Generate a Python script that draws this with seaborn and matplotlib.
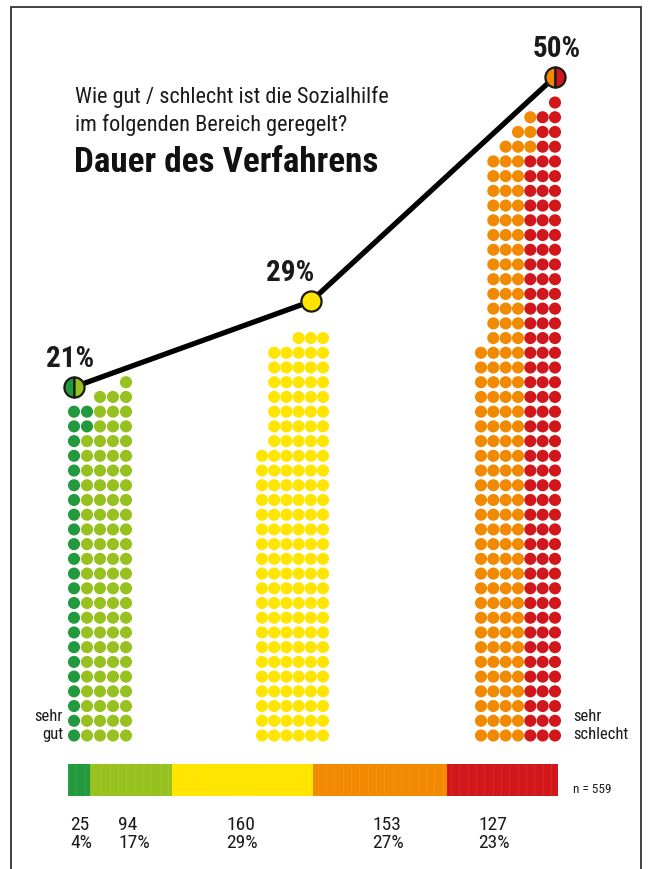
import numpy as np
import pandas as pd
import matplotlib
matplotlib.use("Agg")
import matplotlib.pyplot as plt
import seaborn as sns
from matplotlib import font_manager
from matplotlib.patches import Rectangle

# answers from "sehr gut" to "sehr schlecht"
answers = ["sehr gut", "gut", "mittel", "schlecht", "sehr schlecht"]
counts = [25, 94, 160, 153, 127]
shares = ["4%", "17%", "29%", "27%", "23%"]
colors = ["#23993d", "#97c11f", "#ffe500", "#f18a00", "#d1161c"]

# dot columns (dots per column, left to right) of the three groups
group_cols = [
    [23, 23, 24, 24, 25],
    [20, 27, 27, 28, 28, 28],
    [27, 40, 41, 42, 43, 43, 44],
]
group_answers = [[0, 1], [2], [3, 4]]
group_pct = [21, 29, 50]
pct_labels = ["21%", "29%", "50%"]
n_total = 559

# layout (pixels, figure is 652 x 870)
W, H = 652, 870
group_x0 = [74, 262, 481]
group_dx = [13.0, 12.2, 12.33]
marker_col = [0, 4, 6]
base_y = 736.5
dy = 14.72

sns.set_theme(style="white")
narrow = "DejaVu Sans"
for fam in ["Liberation Sans Narrow", "Roboto Condensed", "DejaVu Sans Condensed"]:
    try:
        font_manager.findfont(fam, fallback_to_default=False)
        narrow = fam
        break
    except Exception:
        pass
plt.rcParams["font.family"] = [narrow, "DejaVu Sans"]

# build dot table: fill columns left to right, each column top to bottom
rows = []
for g, cols in enumerate(group_cols):
    labels = []
    for a in group_answers[g]:
        labels += [answers[a]] * counts[a]
    k = 0
    for c, h in enumerate(cols):
        for r in range(h - 1, -1, -1):
            lab = labels[min(k, len(labels) - 1)]
            rows.append({"x": group_x0[g] + c * group_dx[g],
                         "y": base_y - r * dy,
                         "answer": lab})
            k += 1
dots = pd.DataFrame(rows)

fig = plt.figure(figsize=(W / 100, H / 100), dpi=100)
fig.patch.set_facecolor("white")

ax = fig.add_axes([0, 0, 1, 1])
ax.set_xlim(0, W)
ax.set_ylim(H, 0)
ax.axis("off")

sns.scatterplot(data=dots, x="x", y="y", hue="answer", hue_order=answers,
                palette=dict(zip(answers, colors)), s=76, linewidth=0,
                legend=False, ax=ax, zorder=2)

# line of percentages (own y scale: 21% at px 388, 10.7 px per %)
axp = fig.add_axes([0, 0, 1, 1])
axp.set_xlim(0, W)
axp.set_ylim(21 - (H - 388) / 10.7, 21 + 388 / 10.7)
axp.axis("off")
axp.patch.set_alpha(0)
line_x = [group_x0[g] + marker_col[g] * group_dx[g] for g in range(3)]
line_df = pd.DataFrame({"x": line_x, "pct": group_pct})
sns.lineplot(data=line_df, x="x", y="pct", color="black", linewidth=3.8,
             ax=axp, zorder=3)
marker_fill = [(colors[0], colors[1]), (colors[2], colors[2]), (colors[3], colors[4])]
for g in range(3):
    split = marker_fill[g][0] != marker_fill[g][1]
    axp.plot(line_x[g], group_pct[g], marker="o", markersize=14.5,
             fillstyle="left" if split else "full",
             markerfacecolor=marker_fill[g][0],
             markerfacecoloralt=marker_fill[g][1], markeredgecolor="#1a1a1a",
             markeredgewidth=1.6, zorder=4)
label_dx = [-4, -21, 2]
for g in range(3):
    axp.annotate(pct_labels[g], (line_x[g], group_pct[g]),
                 xytext=(label_dx[g] * 0.72, 21), textcoords="offset points",
                 ha="center", va="center", fontsize=21, fontweight="bold",
                 color="#1a1a1a")

# titles
ax.text(75, 97, "Wie gut / schlecht ist die Sozialhilfe", fontsize=16,
        color="#1a1a1a", va="center", ha="left")
ax.text(75, 125, "im folgenden Bereich geregelt?", fontsize=16,
        color="#1a1a1a", va="center", ha="left")
ax.text(74, 163, "Dauer des Verfahrens", fontsize=25.3, fontweight="bold",
        color="#111111", va="center", ha="left")

ax.text(63, 717, "sehr", fontsize=12, ha="right", va="center", color="#1a1a1a")
ax.text(63, 735, "gut", fontsize=12, ha="right", va="center", color="#1a1a1a")
ax.text(573, 717, "sehr", fontsize=12, ha="left", va="center", color="#1a1a1a")
ax.text(573, 735, "schlecht", fontsize=12, ha="left", va="center", color="#1a1a1a")

# stacked bar of all answers
axb = fig.add_axes([68 / W, 1 - 797 / H, 490 / W, 32 / H])
lefts = np.concatenate([[0], np.cumsum(counts)[:-1]])
axb.barh([0.5] * len(counts), counts, left=lefts, height=1, color=colors,
         linewidth=0)
for xv in np.arange(0, n_total, 9.5):
    axb.axvline(xv, color="white", alpha=0.08, linewidth=0.8)
axb.set_xlim(0, n_total)
axb.set_ylim(0, 1)
axb.axis("off")

ax.text(573, 790, f"n = {n_total}", fontsize=9.5, ha="left", va="center",
        color="#1a1a1a")
count_x = [70, 118, 226, 372, 478]
for i in range(len(counts)):
    ax.text(count_x[i], 825, str(counts[i]), fontsize=14, ha="left",
            va="center", color="#1a1a1a")
    ax.text(count_x[i], 843, shares[i], fontsize=14, ha="left",
            va="center", color="#1a1a1a")

# frame
fig.patches.append(Rectangle((11 / W, -0.05), (641 - 11) / W, 1.05 - 8 / H,
                             transform=fig.transFigure, fill=False,
                             edgecolor="#222222", linewidth=1.2))

fig.savefig("out.png", dpi=100)
